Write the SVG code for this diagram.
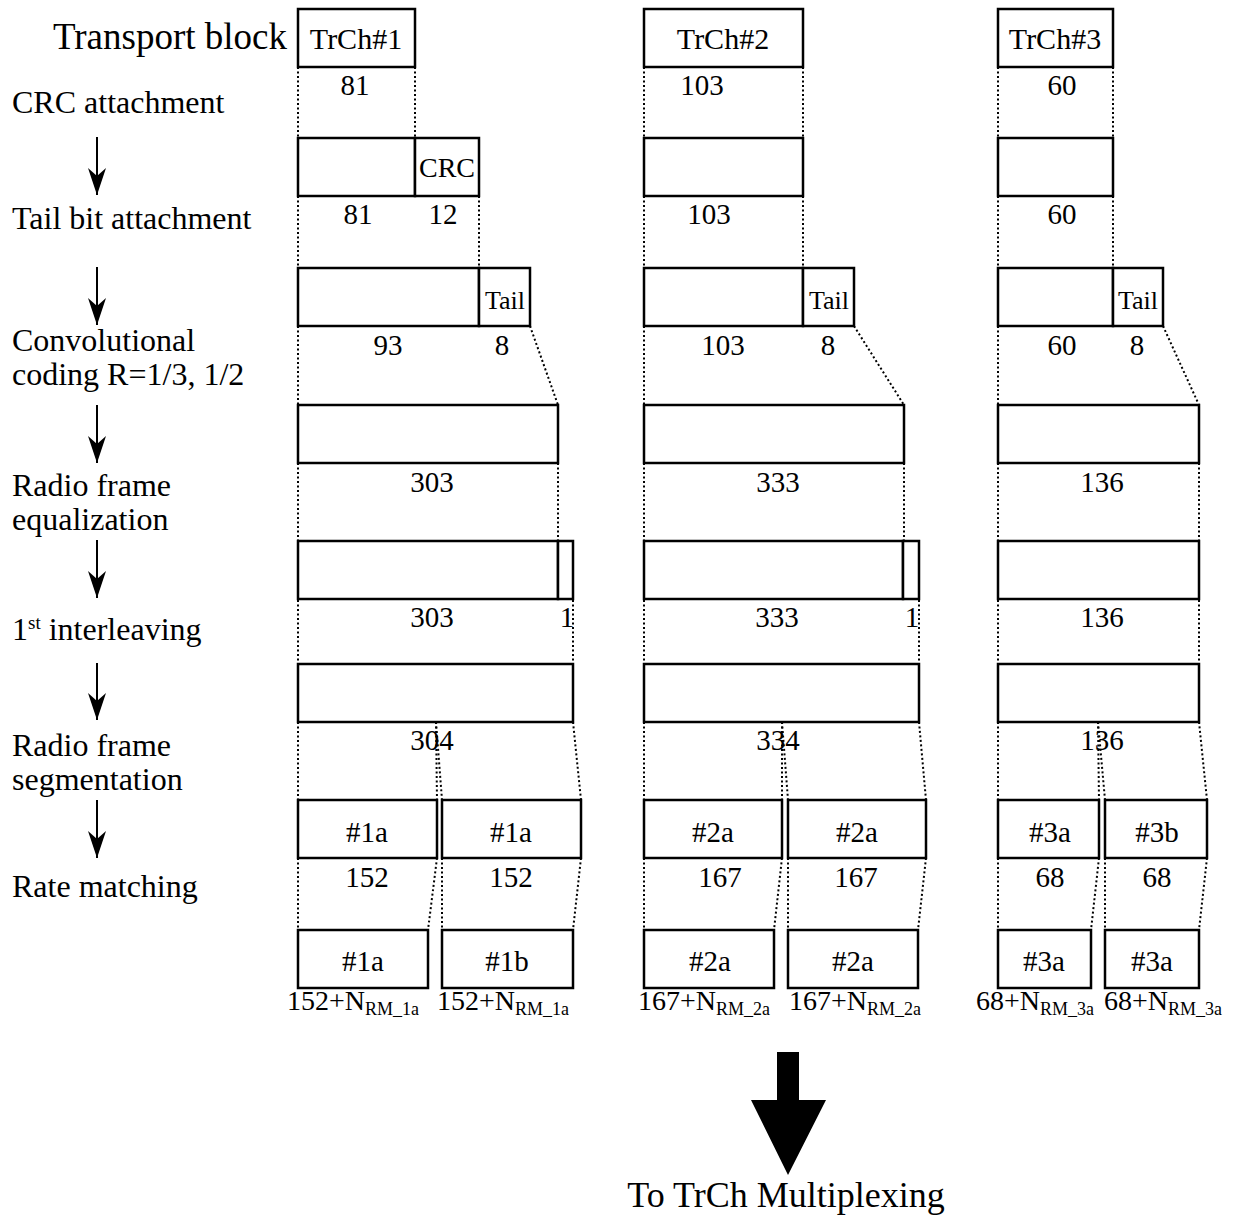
<svg xmlns="http://www.w3.org/2000/svg" width="1236" height="1218" viewBox="0 0 1236 1218">
<style>
text{font-family:"Liberation Serif","Times New Roman",serif;fill:#000}
.lbl{font-size:32px}
.big{font-size:37px}
.num{font-size:29px;text-anchor:middle}
.box{fill:#fff;stroke:#000;stroke-width:2.5}
.dot{stroke:#000;stroke-width:2;stroke-dasharray:2,2.5;fill:none}
.ar{stroke:#000;stroke-width:2;fill:none}
.sub{font-size:18px}
</style>
<defs>
<marker id="ah" markerWidth="28" markerHeight="20" refX="27" refY="10" orient="auto" markerUnits="userSpaceOnUse" viewBox="0 0 28 20">
<path d="M27,10 L0,1 L8,10 L0,19 Z" fill="#000"/>
</marker>
</defs>

<g id="left-labels">
<text class="big" x="53" y="49">Transport block</text>
<text class="lbl" x="12" y="113">CRC attachment</text>
<text class="lbl" x="12" y="229">Tail bit attachment</text>
<text class="lbl" x="12" y="351">Convolutional</text>
<text class="lbl" x="12" y="385">coding R=1/3, 1/2</text>
<text class="lbl" x="12" y="496">Radio frame</text>
<text class="lbl" x="12" y="530">equalization</text>
<text class="lbl" x="12" y="640">1<tspan font-size="19" dy="-11">st</tspan><tspan dy="11"> interleaving</tspan></text>
<text class="lbl" x="12" y="756">Radio frame</text>
<text class="lbl" x="12" y="790">segmentation</text>
<text class="lbl" x="12" y="897">Rate matching</text>
</g>

<g id="step-arrows">
<line class="ar" x1="97" y1="137" x2="97" y2="195" marker-end="url(#ah)"/>
<line class="ar" x1="97" y1="267" x2="97" y2="325" marker-end="url(#ah)"/>
<line class="ar" x1="97" y1="405" x2="97" y2="463" marker-end="url(#ah)"/>
<line class="ar" x1="97" y1="540" x2="97" y2="598" marker-end="url(#ah)"/>
<line class="ar" x1="97" y1="663" x2="97" y2="720" marker-end="url(#ah)"/>
<line class="ar" x1="97" y1="800" x2="97" y2="858" marker-end="url(#ah)"/>
</g>

<g id="connectors">
<!-- column 1 -->
<line class="dot" x1="298" y1="67" x2="298" y2="138"/><line class="dot" x1="415" y1="67" x2="415" y2="138"/>
<line class="dot" x1="298" y1="196" x2="298" y2="268"/><line class="dot" x1="479" y1="196" x2="479" y2="268"/>
<line class="dot" x1="298" y1="326" x2="298" y2="405"/><line class="dot" x1="530" y1="326" x2="558" y2="405"/>
<line class="dot" x1="298" y1="463" x2="298" y2="541"/><line class="dot" x1="558" y1="463" x2="558" y2="541"/>
<line class="dot" x1="298" y1="600" x2="298" y2="664"/><line class="dot" x1="573" y1="600" x2="573" y2="664"/>
<line class="dot" x1="298" y1="722" x2="298" y2="800"/><line class="dot" x1="436" y1="722" x2="437" y2="800"/><line class="dot" x1="436" y1="722" x2="442" y2="800"/><line class="dot" x1="573" y1="722" x2="581" y2="800"/>
<line class="dot" x1="298" y1="858" x2="298" y2="930"/><line class="dot" x1="437" y1="858" x2="428" y2="930"/><line class="dot" x1="442" y1="858" x2="442" y2="930"/><line class="dot" x1="581" y1="858" x2="573" y2="930"/>
<!-- column 2 -->
<line class="dot" x1="644" y1="67" x2="644" y2="138"/><line class="dot" x1="803" y1="67" x2="803" y2="138"/>
<line class="dot" x1="644" y1="196" x2="644" y2="268"/><line class="dot" x1="803" y1="196" x2="803" y2="268"/>
<line class="dot" x1="644" y1="326" x2="644" y2="405"/><line class="dot" x1="854" y1="326" x2="904" y2="405"/>
<line class="dot" x1="644" y1="463" x2="644" y2="541"/><line class="dot" x1="904" y1="463" x2="904" y2="541"/>
<line class="dot" x1="644" y1="600" x2="644" y2="664"/><line class="dot" x1="919" y1="600" x2="919" y2="664"/>
<line class="dot" x1="644" y1="722" x2="644" y2="800"/><line class="dot" x1="782" y1="722" x2="782" y2="800"/><line class="dot" x1="782" y1="722" x2="788" y2="800"/><line class="dot" x1="919" y1="722" x2="926" y2="800"/>
<line class="dot" x1="644" y1="858" x2="644" y2="930"/><line class="dot" x1="782" y1="858" x2="774" y2="930"/><line class="dot" x1="788" y1="858" x2="788" y2="930"/><line class="dot" x1="926" y1="858" x2="918" y2="930"/>
<!-- column 3 -->
<line class="dot" x1="998" y1="67" x2="998" y2="138"/><line class="dot" x1="1113" y1="67" x2="1113" y2="138"/>
<line class="dot" x1="998" y1="196" x2="998" y2="268"/><line class="dot" x1="1113" y1="196" x2="1113" y2="268"/>
<line class="dot" x1="998" y1="326" x2="998" y2="405"/><line class="dot" x1="1163" y1="326" x2="1199" y2="405"/>
<line class="dot" x1="998" y1="463" x2="998" y2="541"/><line class="dot" x1="1199" y1="463" x2="1199" y2="541"/>
<line class="dot" x1="998" y1="600" x2="998" y2="664"/><line class="dot" x1="1199" y1="600" x2="1199" y2="664"/>
<line class="dot" x1="998" y1="722" x2="998" y2="800"/><line class="dot" x1="1098" y1="722" x2="1099" y2="800"/><line class="dot" x1="1098" y1="722" x2="1105" y2="800"/><line class="dot" x1="1199" y1="722" x2="1207" y2="800"/>
<line class="dot" x1="998" y1="858" x2="998" y2="930"/><line class="dot" x1="1099" y1="858" x2="1091" y2="930"/><line class="dot" x1="1105" y1="858" x2="1105" y2="930"/><line class="dot" x1="1207" y1="858" x2="1199" y2="930"/>
</g>

<g id="trch1">
<rect class="box" x="298" y="9" width="117" height="58"/>
<text x="356" y="49" font-size="30" text-anchor="middle">TrCh#1</text>
<text class="num" x="355" y="95">81</text>
<rect class="box" x="298" y="138" width="117" height="58"/>
<rect class="box" x="415" y="138" width="64" height="58"/>
<text x="447" y="177" font-size="28" text-anchor="middle">CRC</text>
<text class="num" x="358" y="224">81</text><text class="num" x="443" y="224">12</text>
<rect class="box" x="298" y="268" width="181" height="58"/>
<rect class="box" x="479" y="268" width="51" height="58"/>
<text x="505" y="309" font-size="26" text-anchor="middle">Tail</text>
<text class="num" x="388" y="355">93</text><text class="num" x="502" y="355">8</text>
<rect class="box" x="298" y="405" width="260" height="58"/>
<text class="num" x="432" y="492">303</text>
<rect class="box" x="298" y="541" width="260" height="58"/>
<rect class="box" x="558" y="541" width="15" height="58"/>
<text class="num" x="432" y="627">303</text><text class="num" x="567" y="627">1</text>
<rect class="box" x="298" y="664" width="275" height="58"/>
<text class="num" x="432" y="750">304</text>
<rect class="box" x="298" y="800" width="139" height="58"/>
<text class="num" x="367" y="842">#1a</text>
<rect class="box" x="442" y="800" width="139" height="58"/>
<text class="num" x="511" y="842">#1a</text>
<text class="num" x="367" y="887">152</text><text class="num" x="511" y="887">152</text>
<rect class="box" x="298" y="930" width="130" height="58"/>
<text class="num" x="363" y="971">#1a</text>
<rect class="box" x="442" y="930" width="131" height="58"/>
<text class="num" x="507" y="971">#1b</text>
<text x="287" y="1010" font-size="28">152+N<tspan class="sub" dy="5">RM_1a</tspan></text>
<text x="437" y="1010" font-size="28">152+N<tspan class="sub" dy="5">RM_1a</tspan></text>
</g>

<g id="trch2">
<rect class="box" x="644" y="9" width="159" height="58"/>
<text x="723" y="49" font-size="30" text-anchor="middle">TrCh#2</text>
<text class="num" x="702" y="95">103</text>
<rect class="box" x="644" y="138" width="159" height="58"/>
<text class="num" x="709" y="224">103</text>
<rect class="box" x="644" y="268" width="159" height="58"/>
<rect class="box" x="803" y="268" width="51" height="58"/>
<text x="829" y="309" font-size="26" text-anchor="middle">Tail</text>
<text class="num" x="723" y="355">103</text><text class="num" x="828" y="355">8</text>
<rect class="box" x="644" y="405" width="260" height="58"/>
<text class="num" x="778" y="492">333</text>
<rect class="box" x="644" y="541" width="259" height="58"/>
<rect class="box" x="903" y="541" width="16" height="58"/>
<text class="num" x="777" y="627">333</text><text class="num" x="912" y="627">1</text>
<rect class="box" x="644" y="664" width="275" height="58"/>
<text class="num" x="778" y="750">334</text>
<rect class="box" x="644" y="800" width="138" height="58"/>
<text class="num" x="713" y="842">#2a</text>
<rect class="box" x="788" y="800" width="138" height="58"/>
<text class="num" x="857" y="842">#2a</text>
<text class="num" x="720" y="887">167</text><text class="num" x="856" y="887">167</text>
<rect class="box" x="644" y="930" width="130" height="58"/>
<text class="num" x="710" y="971">#2a</text>
<rect class="box" x="788" y="930" width="130" height="58"/>
<text class="num" x="853" y="971">#2a</text>
<text x="638" y="1010" font-size="28">167+N<tspan class="sub" dy="5">RM_2a</tspan></text>
<text x="789" y="1010" font-size="28">167+N<tspan class="sub" dy="5">RM_2a</tspan></text>
</g>

<g id="trch3">
<rect class="box" x="998" y="9" width="115" height="58"/>
<text x="1055" y="49" font-size="30" text-anchor="middle">TrCh#3</text>
<text class="num" x="1062" y="95">60</text>
<rect class="box" x="998" y="138" width="115" height="58"/>
<text class="num" x="1062" y="224">60</text>
<rect class="box" x="998" y="268" width="115" height="58"/>
<rect class="box" x="1113" y="268" width="50" height="58"/>
<text x="1138" y="309" font-size="26" text-anchor="middle">Tail</text>
<text class="num" x="1062" y="355">60</text><text class="num" x="1137" y="355">8</text>
<rect class="box" x="998" y="405" width="201" height="58"/>
<text class="num" x="1102" y="492">136</text>
<rect class="box" x="998" y="541" width="201" height="58"/>
<text class="num" x="1102" y="627">136</text>
<rect class="box" x="998" y="664" width="201" height="58"/>
<text class="num" x="1102" y="750">136</text>
<rect class="box" x="998" y="800" width="101" height="58"/>
<text class="num" x="1050" y="842">#3a</text>
<rect class="box" x="1105" y="800" width="102" height="58"/>
<text class="num" x="1157" y="842">#3b</text>
<text class="num" x="1050" y="887">68</text><text class="num" x="1157" y="887">68</text>
<rect class="box" x="998" y="930" width="93" height="58"/>
<text class="num" x="1044" y="971">#3a</text>
<rect class="box" x="1105" y="930" width="94" height="58"/>
<text class="num" x="1152" y="971">#3a</text>
<text x="976" y="1010" font-size="28">68+N<tspan class="sub" dy="5">RM_3a</tspan></text>
<text x="1104" y="1010" font-size="28">68+N<tspan class="sub" dy="5">RM_3a</tspan></text>
</g>

<g id="output">
<path d="M777,1052 H799 V1100 H826 L788,1175 L751,1100 H777 Z" fill="#000"/>
<text x="786" y="1207" font-size="36" text-anchor="middle">To TrCh Multiplexing</text>
</g>
</svg>
